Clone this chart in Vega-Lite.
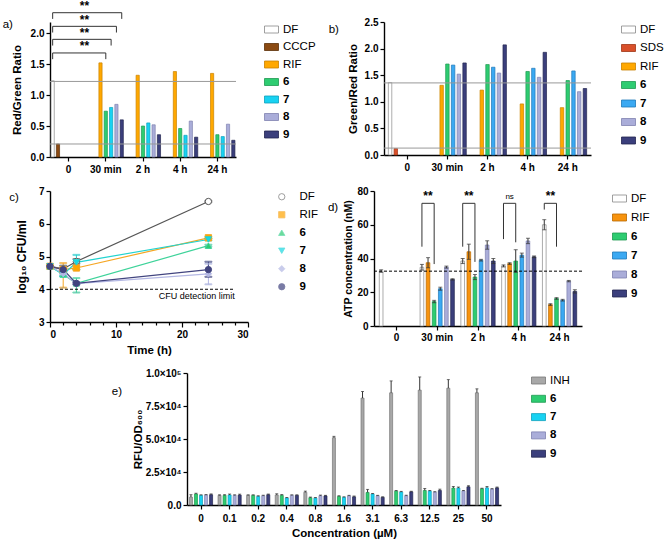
{
  "$schema": "https://vega.github.io/schema/vega-lite/v6.json",
  "background": "white",
  "padding": {"left": 2, "top": 0, "right": 0, "bottom": 0},
  "spacing": 12,
  "resolve": {"scale": {"color": "independent", "stroke": "independent", "fill": "independent", "shape": "independent", "xOffset": "independent", "x": "independent", "y": "independent", "size": "independent"}, "legend": {"color": "independent", "stroke": "independent", "fill": "independent", "shape": "independent"}},
  "config": {
    "font": "Liberation Sans",
    "view": {"stroke": null},
    "axis": {"labelFontWeight": "bold", "labelFontSize": 10, "titleFontWeight": "bold", "titleFontSize": 11.5, "domainColor": "#000", "tickColor": "#000", "domainWidth": 1.4, "tickWidth": 1.2, "labelColor": "#000", "titleColor": "#000", "grid": false, "tickSize": 4, "labelPadding": 2, "labelOverlap": false, "tickCount": 20},
    "legend": {"labelFontSize": 11.5, "labelColor": "#000", "title": null, "symbolType": "M-1,-0.5H1V0.5H-1Z", "symbolSize": 196, "symbolStrokeColor": "#666", "symbolStrokeWidth": 0.8, "rowPadding": 6, "labelFontWeight": {"expr": "indexof(['6','7','8','9'], datum.label) >= 0 ? 'bold' : 'normal'"}},
    "title": {"orient": "left", "angle": 0, "anchor": "end", "frame": "group", "fontSize": 11.5, "fontWeight": "normal", "color": "#000", "offset": 0, "align": "right", "baseline": "middle"}
  },
  "vconcat": [
    {
      "spacing": 12,
      "resolve": {"scale": {"color": "independent", "stroke": "independent", "fill": "independent", "shape": "independent", "xOffset": "independent", "x": "independent", "y": "independent"}, "legend": {"color": "independent", "stroke": "independent"}},
      "hconcat": [
        {
          "title": {"text": "a)", "dy": -3, "offset": 1, "dx": 13},
          "width": 186, "height": 135,
          "data": {"values": [
            {"g": "0", "s": "DF", "v": 1.23}, {"g": "0", "s": "CCCP", "v": 0.21},
            {"g": "30 min", "s": "RIF", "v": 1.52}, {"g": "30 min", "s": "6", "v": 0.74}, {"g": "30 min", "s": "7", "v": 0.80}, {"g": "30 min", "s": "8", "v": 0.85}, {"g": "30 min", "s": "9", "v": 0.60},
            {"g": "2 h", "s": "RIF", "v": 1.32}, {"g": "2 h", "s": "6", "v": 0.50}, {"g": "2 h", "s": "7", "v": 0.55}, {"g": "2 h", "s": "8", "v": 0.52}, {"g": "2 h", "s": "9", "v": 0.36},
            {"g": "4 h", "s": "RIF", "v": 1.38}, {"g": "4 h", "s": "6", "v": 0.46}, {"g": "4 h", "s": "7", "v": 0.35}, {"g": "4 h", "s": "8", "v": 0.58}, {"g": "4 h", "s": "9", "v": 0.32},
            {"g": "24 h", "s": "RIF", "v": 1.35}, {"g": "24 h", "s": "6", "v": 0.36}, {"g": "24 h", "s": "7", "v": 0.33}, {"g": "24 h", "s": "8", "v": 0.53}, {"g": "24 h", "s": "9", "v": 0.27}
          ]},
          "layer": [
            {
              "mark": {"type": "bar", "strokeWidth": 0.7},
              "encoding": {
                "x": {"field": "g", "type": "nominal", "scale": {"domain": ["0", "30 min", "2 h", "4 h", "24 h"], "paddingInner": 0, "paddingOuter": 0}, "axis": {"title": null, "labelAngle": 0, "labelPadding": 3}},
                "xOffset": {"field": "s", "type": "nominal", "scale": {"domain": ["DF", "CCCP", "RIF", "6", "7", "8", "9"], "paddingInner": 0.4, "paddingOuter": 0.2}},
                "y": {"field": "v", "type": "quantitative", "scale": {"domain": [0, 2.18], "nice": false}, "axis": {"values": [0, 0.5, 1, 1.5, 2], "format": ".1f", "title": "Red/Green Ratio", "titlePadding": 8}},
                "color": {"field": "s", "type": "nominal", "scale": {"domain": ["DF", "CCCP", "RIF", "6", "7", "8", "9"], "range": ["#ffffff", "#8B4A12", "#FFA800", "#2ECC71", "#18D2F2", "#AAADD9", "#3B3F7C"]}, "legend": {"offset": 28, "rowPadding": 4.5}},
                "stroke": {"field": "s", "type": "nominal", "scale": {"domain": ["DF", "CCCP", "RIF", "6", "7", "8", "9"], "range": ["#888888", "#5a2e08", "#c98200", "#1e9950", "#0ea0bb", "#7f82b0", "#22254f"]}, "legend": null}
              }
            },
            {
              "data": {"values": [{"y": 1.22}, {"y": 0.21}]},
              "mark": {"type": "rule", "color": "#999999", "strokeWidth": 1},
              "encoding": {"y": {"field": "y", "type": "quantitative"}}
            },
            {
              "data": {"values": [
                {"b": 1, "o": 1, "g": "0", "s": "DF", "y": 1.58}, {"b": 1, "o": 2, "g": "0", "s": "DF", "y": 1.68}, {"b": 1, "o": 3, "g": "30 min", "s": "6", "y": 1.68}, {"b": 1, "o": 4, "g": "30 min", "s": "6", "y": 1.58},
                {"b": 2, "o": 1, "g": "0", "s": "DF", "y": 1.80}, {"b": 2, "o": 2, "g": "0", "s": "DF", "y": 1.90}, {"b": 2, "o": 3, "g": "30 min", "s": "7", "y": 1.90}, {"b": 2, "o": 4, "g": "30 min", "s": "7", "y": 1.80},
                {"b": 3, "o": 1, "g": "0", "s": "DF", "y": 2.01}, {"b": 3, "o": 2, "g": "0", "s": "DF", "y": 2.11}, {"b": 3, "o": 3, "g": "30 min", "s": "8", "y": 2.11}, {"b": 3, "o": 4, "g": "30 min", "s": "8", "y": 2.01},
                {"b": 4, "o": 1, "g": "0", "s": "DF", "y": 2.23}, {"b": 4, "o": 2, "g": "0", "s": "DF", "y": 2.33}, {"b": 4, "o": 3, "g": "30 min", "s": "9", "y": 2.33}, {"b": 4, "o": 4, "g": "30 min", "s": "9", "y": 2.23}
              ]},
              "mark": {"type": "line", "color": "#333333", "strokeWidth": 1},
              "encoding": {
                "x": {"field": "g", "type": "nominal"},
                "xOffset": {"field": "s", "type": "nominal"},
                "y": {"field": "y", "type": "quantitative"},
                "detail": {"field": "b"},
                "order": {"field": "o"}
              }
            },
            {
              "data": {"values": [
                {"g": "0", "s": "9", "y": 1.72, "t": "**"}, {"g": "0", "s": "9", "y": 1.94, "t": "**"}, {"g": "0", "s": "9", "y": 2.15, "t": "**"}, {"g": "0", "s": "9", "y": 2.37, "t": "**"}
              ]},
              "mark": {"type": "text", "fontWeight": "bold", "fontSize": 12, "baseline": "alphabetic", "color": "#000"},
              "encoding": {
                "x": {"field": "g", "type": "nominal"},
                "xOffset": {"field": "s", "type": "nominal"},
                "y": {"field": "y", "type": "quantitative"},
                "text": {"field": "t"}
              }
            }
          ]
        },
        {
          "title": {"text": "b)", "dy": 2, "offset": 9, "dx": 11},
          "width": 207, "height": 133,
          "data": {"values": [
            {"g": "0", "s": "DF", "v": 1.36}, {"g": "0", "s": "SDS", "v": 0.12},
            {"g": "30 min", "s": "RIF", "v": 1.31}, {"g": "30 min", "s": "6", "v": 1.71}, {"g": "30 min", "s": "7", "v": 1.69}, {"g": "30 min", "s": "8", "v": 1.52}, {"g": "30 min", "s": "9", "v": 1.73},
            {"g": "2 h", "s": "RIF", "v": 1.22}, {"g": "2 h", "s": "6", "v": 1.70}, {"g": "2 h", "s": "7", "v": 1.65}, {"g": "2 h", "s": "8", "v": 1.54}, {"g": "2 h", "s": "9", "v": 2.07},
            {"g": "4 h", "s": "RIF", "v": 0.96}, {"g": "4 h", "s": "6", "v": 1.57}, {"g": "4 h", "s": "7", "v": 1.63}, {"g": "4 h", "s": "8", "v": 1.46}, {"g": "4 h", "s": "9", "v": 1.93},
            {"g": "24 h", "s": "RIF", "v": 0.89}, {"g": "24 h", "s": "6", "v": 1.40}, {"g": "24 h", "s": "7", "v": 1.58}, {"g": "24 h", "s": "8", "v": 1.19}, {"g": "24 h", "s": "9", "v": 1.25}
          ]},
          "layer": [
            {
              "mark": {"type": "bar", "strokeWidth": 0.7},
              "encoding": {
                "x": {"field": "g", "type": "nominal", "scale": {"domain": ["0", "30 min", "2 h", "4 h", "24 h"], "paddingInner": 0, "paddingOuter": 0.08}, "axis": {"title": null, "labelAngle": 0, "labelPadding": 3}},
                "xOffset": {"field": "s", "type": "nominal", "scale": {"domain": ["DF", "SDS", "RIF", "6", "7", "8", "9"], "paddingInner": 0.4, "paddingOuter": 0.2}},
                "y": {"field": "v", "type": "quantitative", "scale": {"domain": [0, 2.5], "nice": false}, "axis": {"values": [0, 0.5, 1, 1.5, 2, 2.5], "format": ".1f", "title": "Green/Red Ratio", "titlePadding": 6}},
                "color": {"field": "s", "type": "nominal", "scale": {"domain": ["DF", "SDS", "RIF", "6", "7", "8", "9"], "range": ["#ffffff", "#D9502A", "#FFA800", "#2ECC71", "#3BA9F2", "#AAADD9", "#3B3F7C"]}, "legend": {"offset": 30, "rowPadding": 5.5}},
                "stroke": {"field": "s", "type": "nominal", "scale": {"domain": ["DF", "SDS", "RIF", "6", "7", "8", "9"], "range": ["#888888", "#a03515", "#c98200", "#1e9950", "#1f78b8", "#7f82b0", "#22254f"]}, "legend": null}
              }
            },
            {
              "data": {"values": [{"y": 1.355}, {"y": 0.13}]},
              "mark": {"type": "rule", "color": "#999999", "strokeWidth": 1},
              "encoding": {"y": {"field": "y", "type": "quantitative"}}
            }
          ]
        }
      ]
    },
    {
      "spacing": 8,
      "resolve": {"scale": {"color": "independent", "stroke": "independent", "fill": "independent", "shape": "independent", "xOffset": "independent", "x": "independent", "y": "independent", "size": "independent"}, "legend": {"color": "independent", "stroke": "independent", "fill": "independent", "shape": "independent"}},
      "hconcat": [
        {
          "title": {"text": "c)", "dy": 1, "offset": 1, "dx": 14},
          "width": 198, "height": 131,
          "data": {"values": [
            {"s": "DF", "t": 0, "v": 4.70, "lo": 4.70, "hi": 4.70}, {"s": "DF", "t": 2, "v": 4.62, "lo": 4.55, "hi": 4.72}, {"s": "DF", "t": 4, "v": 4.85, "lo": 4.78, "hi": 4.92}, {"s": "DF", "t": 24, "v": 6.68, "lo": 6.66, "hi": 6.70},
            {"s": "RIF", "t": 0, "v": 4.70, "lo": 4.70, "hi": 4.70}, {"s": "RIF", "t": 2, "v": 4.60, "lo": 4.05, "hi": 4.80}, {"s": "RIF", "t": 4, "v": 4.65, "lo": 4.60, "hi": 4.70}, {"s": "RIF", "t": 24, "v": 5.57, "lo": 5.54, "hi": 5.60},
            {"s": "6", "t": 0, "v": 4.70, "lo": 4.70, "hi": 4.70}, {"s": "6", "t": 2, "v": 4.45, "lo": 4.40, "hi": 4.50}, {"s": "6", "t": 4, "v": 4.18, "lo": 3.90, "hi": 4.34}, {"s": "6", "t": 24, "v": 5.33, "lo": 5.30, "hi": 5.36},
            {"s": "7", "t": 0, "v": 4.70, "lo": 4.70, "hi": 4.70}, {"s": "7", "t": 2, "v": 4.45, "lo": 4.40, "hi": 4.50}, {"s": "7", "t": 4, "v": 4.82, "lo": 4.60, "hi": 5.05}, {"s": "7", "t": 24, "v": 5.52, "lo": 5.49, "hi": 5.55},
            {"s": "8", "t": 0, "v": 4.70, "lo": 4.70, "hi": 4.70}, {"s": "8", "t": 2, "v": 4.48, "lo": 4.44, "hi": 4.52}, {"s": "8", "t": 4, "v": 4.17, "lo": 4.14, "hi": 4.20}, {"s": "8", "t": 24, "v": 4.47, "lo": 4.15, "hi": 4.78},
            {"s": "9", "t": 0, "v": 4.70, "lo": 4.70, "hi": 4.70}, {"s": "9", "t": 2, "v": 4.60, "lo": 4.55, "hi": 4.65}, {"s": "9", "t": 4, "v": 4.18, "lo": 4.15, "hi": 4.21}, {"s": "9", "t": 24, "v": 4.60, "lo": 4.38, "hi": 4.84}
          ]},
          "resolve": {"axis": {"x": "independent"}},
          "layer": [
            {
              "mark": {"type": "line", "strokeWidth": 1.2},
              "encoding": {
                "x": {"field": "t", "type": "quantitative", "scale": {"domain": [0, 30], "nice": false}, "axis": {"values": [0, 10, 20, 30], "title": "Time (h)", "tickSize": 5, "titlePadding": 5}},
                "y": {"field": "v", "type": "quantitative", "scale": {"domain": [3, 7], "nice": false}, "axis": {"values": [3, 4, 5, 6, 7], "format": "d", "title": "log₁₀ CFU/ml", "titleFontSize": 12, "titlePadding": 10}},
                "stroke": {"field": "s", "type": "nominal", "scale": {"domain": ["DF", "RIF", "6", "7", "8", "9"], "range": ["#555555", "#F5A623", "#3ED39A", "#22D3D0", "#B3B7E3", "#41447F"]}, "legend": {"offset": 28, "symbolSize": 40, "rowPadding": 5, "labelOffset": 12}}
              }
            },
            {
              "mark": {"type": "rule", "strokeWidth": 1},
              "encoding": {
                "x": {"field": "t", "type": "quantitative", "axis": null},
                "y": {"field": "lo", "type": "quantitative"},
                "y2": {"field": "hi"},
                "stroke": {"field": "s", "type": "nominal"}
              }
            },
            {
              "mark": {"type": "tick", "orient": "horizontal", "size": 7, "thickness": 1},
              "encoding": {
                "x": {"field": "t", "type": "quantitative", "axis": null},
                "y": {"field": "lo", "type": "quantitative"},
                "stroke": {"field": "s", "type": "nominal"}
              }
            },
            {
              "mark": {"type": "tick", "orient": "horizontal", "size": 7, "thickness": 1},
              "encoding": {
                "x": {"field": "t", "type": "quantitative", "axis": null},
                "y": {"field": "hi", "type": "quantitative"},
                "stroke": {"field": "s", "type": "nominal"}
              }
            },
            {
              "mark": {"type": "point", "size": 40, "strokeWidth": 1, "opacity": 1},
              "encoding": {
                "x": {"field": "t", "type": "quantitative", "axis": null},
                "y": {"field": "v", "type": "quantitative"},
                "stroke": {"field": "s", "type": "nominal"},
                "fill": {"field": "s", "type": "nominal", "scale": {"domain": ["DF", "RIF", "6", "7", "8", "9"], "range": ["#ffffff", "#FFA500", "#2ECC71", "#14D8E8", "#B3B7E3", "#41447F"]}, "legend": {"offset": 28, "symbolSize": 40, "rowPadding": 5, "labelOffset": 12}},
                "shape": {"field": "s", "type": "nominal", "scale": {"domain": ["DF", "RIF", "6", "7", "8", "9"], "range": ["circle", "square", "triangle-up", "triangle-down", "diamond", "circle"]}, "legend": {"offset": 28, "symbolSize": 40, "rowPadding": 5, "labelOffset": 12}}
              }
            },
            {
              "data": {"values": [{"x": 0, "x2": 28, "y": 4}]},
              "mark": {"type": "rule", "strokeDash": [3, 2], "color": "#000", "strokeWidth": 1},
              "encoding": {
                "x": {"field": "x", "type": "quantitative", "axis": {"values": [2, 4, 6, 8, 12, 14, 16, 18, 22, 24, 26, 28], "labels": false, "domain": false, "title": null, "tickSize": 3, "orient": "bottom"}},
                "x2": {"field": "x2"},
                "y": {"field": "y", "type": "quantitative"}
              }
            },
            {
              "data": {"values": [{"x": 28, "y": 3.93, "t": "CFU detection limit"}]},
              "mark": {"type": "text", "align": "right", "baseline": "top", "fontSize": 9, "color": "#000"},
              "encoding": {
                "x": {"field": "x", "type": "quantitative", "axis": null},
                "y": {"field": "y", "type": "quantitative"},
                "text": {"field": "t"}
              }
            }
          ]
        },
        {
          "title": {"text": "d)", "dy": 11, "offset": 15, "dx": 20},
          "width": 208, "height": 135,
          "data": {"values": [
            {"g": "0", "s": "DF", "v": 32.5, "lo": 31.8, "hi": 33.3},
            {"g": "30 min", "s": "DF", "v": 34.8, "lo": 33.1, "hi": 36.5}, {"g": "30 min", "s": "RIF", "v": 37.5, "lo": 34.5, "hi": 40.5}, {"g": "30 min", "s": "6", "v": 14.5, "lo": 13.8, "hi": 15.2}, {"g": "30 min", "s": "7", "v": 22.1, "lo": 21.2, "hi": 23.0}, {"g": "30 min", "s": "8", "v": 34.9, "lo": 34.3, "hi": 35.5}, {"g": "30 min", "s": "9", "v": 27.6, "lo": 27.2, "hi": 28.0},
            {"g": "2 h", "s": "DF", "v": 38.5, "lo": 37.0, "hi": 40.0}, {"g": "2 h", "s": "RIF", "v": 44.0, "lo": 39.5, "hi": 48.5}, {"g": "2 h", "s": "6", "v": 29.0, "lo": 27.5, "hi": 30.5}, {"g": "2 h", "s": "7", "v": 39.0, "lo": 38.5, "hi": 39.5}, {"g": "2 h", "s": "8", "v": 48.0, "lo": 45.5, "hi": 50.5}, {"g": "2 h", "s": "9", "v": 38.5, "lo": 37.0, "hi": 40.0},
            {"g": "4 h", "s": "DF", "v": 35.6, "lo": 35.0, "hi": 36.2}, {"g": "4 h", "s": "RIF", "v": 37.0, "lo": 36.5, "hi": 37.5}, {"g": "4 h", "s": "6", "v": 38.5, "lo": 31.8, "hi": 45.2}, {"g": "4 h", "s": "7", "v": 42.0, "lo": 40.8, "hi": 43.2}, {"g": "4 h", "s": "8", "v": 50.4, "lo": 48.8, "hi": 52.0}, {"g": "4 h", "s": "9", "v": 41.0, "lo": 40.5, "hi": 41.5},
            {"g": "24 h", "s": "DF", "v": 60.0, "lo": 57.0, "hi": 63.0}, {"g": "24 h", "s": "RIF", "v": 12.7, "lo": 12.2, "hi": 13.2}, {"g": "24 h", "s": "6", "v": 16.3, "lo": 15.8, "hi": 16.8}, {"g": "24 h", "s": "7", "v": 15.3, "lo": 14.8, "hi": 15.8}, {"g": "24 h", "s": "8", "v": 26.6, "lo": 26.2, "hi": 27.0}, {"g": "24 h", "s": "9", "v": 20.5, "lo": 19.5, "hi": 21.5}
          ]},
          "layer": [
            {
              "mark": {"type": "bar", "strokeWidth": 0.7},
              "encoding": {
                "x": {"field": "g", "type": "nominal", "scale": {"domain": ["0", "30 min", "2 h", "4 h", "24 h"], "paddingInner": 0.1, "paddingOuter": 0.1}, "axis": {"title": null, "labelAngle": 0}},
                "xOffset": {"field": "s", "type": "nominal", "scale": {"domain": ["DF", "RIF", "6", "7", "8", "9"], "paddingInner": 0.4, "paddingOuter": 0.2}},
                "y": {"field": "v", "type": "quantitative", "scale": {"domain": [0, 80], "nice": false}, "axis": {"values": [0, 20, 40, 60, 80], "title": "ATP concentration (nM)", "titleFontSize": 10.5, "titlePadding": 3.5}},
                "color": {"field": "s", "type": "nominal", "scale": {"domain": ["DF", "RIF", "6", "7", "8", "9"], "range": ["#ffffff", "#F7930E", "#2ECC71", "#3BA9F2", "#AAADD9", "#3B3F7C"]}, "legend": {"offset": 30, "rowPadding": 6}},
                "stroke": {"field": "s", "type": "nominal", "scale": {"domain": ["DF", "RIF", "6", "7", "8", "9"], "range": ["#888888", "#b86800", "#1e9950", "#1f78b8", "#7f82b0", "#22254f"]}, "legend": null}
              }
            },
            {
              "mark": {"type": "rule", "color": "#333", "strokeWidth": 1},
              "encoding": {
                "x": {"field": "g", "type": "nominal"},
                "xOffset": {"field": "s", "type": "nominal"},
                "y": {"field": "lo", "type": "quantitative"},
                "y2": {"field": "hi"}
              }
            },
            {
              "mark": {"type": "tick", "color": "#333", "size": 4, "thickness": 1},
              "encoding": {
                "x": {"field": "g", "type": "nominal"},
                "xOffset": {"field": "s", "type": "nominal"},
                "y": {"field": "hi", "type": "quantitative"}
              }
            },
            {
              "mark": {"type": "tick", "color": "#333", "size": 4, "thickness": 1},
              "encoding": {
                "x": {"field": "g", "type": "nominal"},
                "xOffset": {"field": "s", "type": "nominal"},
                "y": {"field": "lo", "type": "quantitative"}
              }
            },
            {
              "data": {"values": [{"y": 32.5}]},
              "mark": {"type": "rule", "color": "#000", "strokeDash": [3, 2], "strokeWidth": 1},
              "encoding": {"y": {"field": "y", "type": "quantitative"}}
            },
            {
              "data": {"values": [
                {"b": 1, "o": 1, "g": "30 min", "s": "DF", "y": 47.0}, {"b": 1, "o": 2, "g": "30 min", "s": "DF", "y": 72.7}, {"b": 1, "o": 3, "g": "30 min", "s": "6", "y": 72.7}, {"b": 1, "o": 4, "g": "30 min", "s": "6", "y": 36.7},
                {"b": 2, "o": 1, "g": "2 h", "s": "DF", "y": 47.0}, {"b": 2, "o": 2, "g": "2 h", "s": "DF", "y": 72.7}, {"b": 2, "o": 3, "g": "2 h", "s": "6", "y": 72.7}, {"b": 2, "o": 4, "g": "2 h", "s": "6", "y": 38.0},
                {"b": 3, "o": 1, "g": "4 h", "s": "DF", "y": 51.5}, {"b": 3, "o": 2, "g": "4 h", "s": "DF", "y": 72.7}, {"b": 3, "o": 3, "g": "4 h", "s": "6", "y": 72.7}, {"b": 3, "o": 4, "g": "4 h", "s": "6", "y": 49.6},
                {"b": 4, "o": 1, "g": "24 h", "s": "DF", "y": 69.0}, {"b": 4, "o": 2, "g": "24 h", "s": "DF", "y": 72.7}, {"b": 4, "o": 3, "g": "24 h", "s": "6", "y": 72.7}, {"b": 4, "o": 4, "g": "24 h", "s": "6", "y": 47.0}
              ]},
              "mark": {"type": "line", "color": "#333333", "strokeWidth": 1},
              "encoding": {
                "x": {"field": "g", "type": "nominal"},
                "xOffset": {"field": "s", "type": "nominal"},
                "y": {"field": "y", "type": "quantitative"},
                "detail": {"field": "b"},
                "order": {"field": "o"}
              }
            },
            {
              "data": {"values": [
                {"g": "30 min", "s": "RIF", "y": 74.5, "t": "**"}, {"g": "2 h", "s": "RIF", "y": 74.5, "t": "**"}, {"g": "24 h", "s": "RIF", "y": 74.5, "t": "**"}
              ]},
              "mark": {"type": "text", "fontSize": 12, "fontWeight": "bold", "baseline": "alphabetic", "color": "#000"},
              "encoding": {
                "x": {"field": "g", "type": "nominal"},
                "xOffset": {"field": "s", "type": "nominal"},
                "y": {"field": "y", "type": "quantitative"},
                "text": {"field": "t"}
              }
            },
            {
              "data": {"values": [
                {"g": "4 h", "s": "RIF", "y": 75.5, "t": "ns"}
              ]},
              "mark": {"type": "text", "fontSize": 8, "baseline": "alphabetic", "color": "#000"},
              "encoding": {
                "x": {"field": "g", "type": "nominal"},
                "xOffset": {"field": "s", "type": "nominal"},
                "y": {"field": "y", "type": "quantitative"},
                "text": {"field": "t"}
              }
            }
          ]
        }
      ]
    },
    {
      "spacing": 0,
      "hconcat": [
        {
          "width": 61, "height": 10,
          "data": {"values": []},
          "mark": "point",
          "encoding": {}
        },
        {
          "title": {"text": "e)", "dy": 13, "offset": 3, "dx": 3},
          "width": 314, "height": 132,
          "data": {"values": [
            {"c": "0", "s": "INH", "v": 6000, "hi": 7800}, {"c": "0", "s": "6", "v": 8300, "hi": 8900}, {"c": "0", "s": "7", "v": 7300, "hi": 7700}, {"c": "0", "s": "8", "v": 7500, "hi": 7900}, {"c": "0", "s": "9", "v": 7800, "hi": 8400},
            {"c": "0.1", "s": "INH", "v": 7300, "hi": 7700}, {"c": "0.1", "s": "6", "v": 7300, "hi": 7800}, {"c": "0.1", "s": "7", "v": 7600, "hi": 8300}, {"c": "0.1", "s": "8", "v": 7300, "hi": 7700}, {"c": "0.1", "s": "9", "v": 7500, "hi": 8200},
            {"c": "0.2", "s": "INH", "v": 7300, "hi": 7700}, {"c": "0.2", "s": "6", "v": 7300, "hi": 7700}, {"c": "0.2", "s": "7", "v": 6500, "hi": 7000}, {"c": "0.2", "s": "8", "v": 7000, "hi": 7400}, {"c": "0.2", "s": "9", "v": 7800, "hi": 8300},
            {"c": "0.4", "s": "INH", "v": 7600, "hi": 8500}, {"c": "0.4", "s": "6", "v": 7300, "hi": 7900}, {"c": "0.4", "s": "7", "v": 5300, "hi": 5700}, {"c": "0.4", "s": "8", "v": 7300, "hi": 7700}, {"c": "0.4", "s": "9", "v": 7300, "hi": 7700},
            {"c": "0.8", "s": "INH", "v": 9600, "hi": 10500}, {"c": "0.8", "s": "6", "v": 5500, "hi": 6000}, {"c": "0.8", "s": "7", "v": 5200, "hi": 5600}, {"c": "0.8", "s": "8", "v": 7000, "hi": 7500}, {"c": "0.8", "s": "9", "v": 6900, "hi": 7300},
            {"c": "1.6", "s": "INH", "v": 51000, "hi": 52000}, {"c": "1.6", "s": "6", "v": 6500, "hi": 7000}, {"c": "1.6", "s": "7", "v": 5800, "hi": 6200}, {"c": "1.6", "s": "8", "v": 6900, "hi": 7300}, {"c": "1.6", "s": "9", "v": 6200, "hi": 6800},
            {"c": "3.1", "s": "INH", "v": 81000, "hi": 86000}, {"c": "3.1", "s": "6", "v": 9500, "hi": 11800}, {"c": "3.1", "s": "7", "v": 8300, "hi": 8700}, {"c": "3.1", "s": "8", "v": 7000, "hi": 7300}, {"c": "3.1", "s": "9", "v": 5800, "hi": 6200},
            {"c": "6.3", "s": "INH", "v": 85000, "hi": 94000}, {"c": "6.3", "s": "6", "v": 10500, "hi": 11000}, {"c": "6.3", "s": "7", "v": 9800, "hi": 10300}, {"c": "6.3", "s": "8", "v": 7000, "hi": 7400}, {"c": "6.3", "s": "9", "v": 10000, "hi": 10400},
            {"c": "12.5", "s": "INH", "v": 87000, "hi": 97000}, {"c": "12.5", "s": "6", "v": 11000, "hi": 12500}, {"c": "12.5", "s": "7", "v": 10500, "hi": 11000}, {"c": "12.5", "s": "8", "v": 9700, "hi": 10100}, {"c": "12.5", "s": "9", "v": 11000, "hi": 12000},
            {"c": "25", "s": "INH", "v": 88500, "hi": 95000}, {"c": "25", "s": "6", "v": 12800, "hi": 14000}, {"c": "25", "s": "7", "v": 12800, "hi": 13600}, {"c": "25", "s": "8", "v": 10600, "hi": 11000}, {"c": "25", "s": "9", "v": 13800, "hi": 14600},
            {"c": "50", "s": "INH", "v": 85000, "hi": 88000}, {"c": "50", "s": "6", "v": 12300, "hi": 12700}, {"c": "50", "s": "7", "v": 13000, "hi": 14000}, {"c": "50", "s": "8", "v": 12000, "hi": 12400}, {"c": "50", "s": "9", "v": 13000, "hi": 13600}
          ]},
          "layer": [
            {
              "mark": {"type": "bar", "strokeWidth": 0.7},
              "encoding": {
                "x": {"field": "c", "type": "nominal", "scale": {"domain": ["0", "0.1", "0.2", "0.4", "0.8", "1.6", "3.1", "6.3", "12.5", "25", "50"], "paddingInner": 0.12, "paddingOuter": 0.05}, "axis": {"title": "Concentration (µM)", "labelAngle": 0, "labelPadding": 4}},
                "xOffset": {"field": "s", "type": "nominal", "scale": {"domain": ["INH", "6", "7", "8", "9"], "paddingInner": 0.4, "paddingOuter": 0.2}},
                "y": {"field": "v", "type": "quantitative", "scale": {"domain": [0, 100000], "nice": false}, "axis": {"values": [0, 25000, 50000, 75000, 100000], "title": "RFU/OD₆₀₀", "titlePadding": 2, "labelExpr": "datum.value == 0 ? '0.0' : datum.value == 100000 ? '1.0×10⁵' : format(datum.value / 10000, '.1f') + '×10⁴'"}},
                "color": {"field": "s", "type": "nominal", "scale": {"domain": ["INH", "6", "7", "8", "9"], "range": ["#A8A8A8", "#2ECC71", "#18D2F2", "#AAADD9", "#3B3F7C"]}, "legend": {"offset": 30, "rowPadding": 5.3}},
                "stroke": {"field": "s", "type": "nominal", "scale": {"domain": ["INH", "6", "7", "8", "9"], "range": ["#777777", "#1e9950", "#0ea0bb", "#7f82b0", "#22254f"]}, "legend": null}
              }
            },
            {
              "mark": {"type": "rule", "color": "#333", "strokeWidth": 1},
              "encoding": {
                "x": {"field": "c", "type": "nominal"},
                "xOffset": {"field": "s", "type": "nominal"},
                "y": {"field": "v", "type": "quantitative"},
                "y2": {"field": "hi"}
              }
            },
            {
              "mark": {"type": "tick", "color": "#333", "size": 3, "thickness": 1},
              "encoding": {
                "x": {"field": "c", "type": "nominal"},
                "xOffset": {"field": "s", "type": "nominal"},
                "y": {"field": "hi", "type": "quantitative"}
              }
            }
          ]
        }
      ]
    }
  ]
}
